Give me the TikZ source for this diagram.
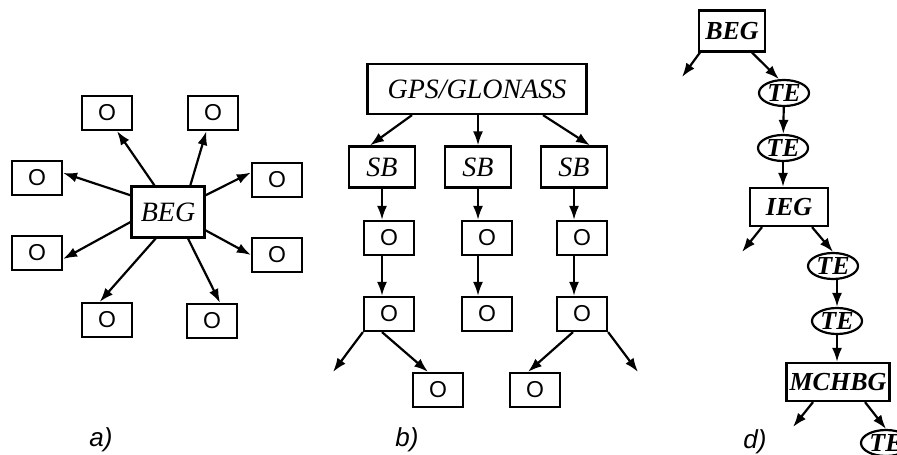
\documentclass[tikz,border=0pt]{standalone}
\usepackage{fontspec}
\setmainfont{Liberation Serif}
\setsansfont{Liberation Sans}
\usetikzlibrary{shapes.geometric,arrows.meta}

\tikzset{obox/.style={draw, minimum width=25pt, minimum height=17pt, inner sep=0pt, font=\fontsize{11.5}{12}\selectfont\sffamily}}

\begin{document}
\begin{tikzpicture}[x=0.5pt,y=-0.5pt,line width=1.1pt,>={Latex[length=7pt,width=5pt]},
		box/.style={draw, inner sep=1pt, font=\fontsize{14}{15}\selectfont\itshape},
		dbox/.style={box, font=\fontsize{13}{14}\selectfont\bfseries\itshape},
		te/.style={draw, ellipse, minimum width=25pt, minimum height=13pt, inner sep=0pt, font=\fontsize{13}{13}\selectfont\bfseries\itshape},
		lbl/.style={font=\fontsize{13}{14}\selectfont\sffamily\itshape}]
		\useasboundingbox (0,0) rectangle (897,454);
		
		\node[box, minimum width=36.5pt, minimum height=25.5pt] (beg) at (168,212) {BEG};
		\node[obox] (o1) at (107,113) {O};
		\node[obox] (o2) at (213,113) {O};
		\node[obox] (o3) at (37,178) {O};
		\node[obox] (o4) at (277,180) {O};
		\node[obox] (o5) at (37,253) {O};
		\node[obox] (o6) at (277,255) {O};
		\node[obox] (o7) at (107,320) {O};
		\node[obox] (o8) at (212,321) {O};
		\draw[->] (beg.117) -- (o1.299);
		\draw[->] (beg.50) -- (o2.250);
		\draw[->] (beg.156) -- (o3.11);
		\draw[->] (beg.24) -- (o4.164);
		\draw[->] (beg.195) -- (o5.347);
		\draw[->] (beg.334) -- (o6.180);
		\draw[->] (beg.245) -- (o7.112);
		\draw[->] (beg.307) -- (o8.66);
		\node[lbl] (la) at (101,440) {a)};
		
		\node[box, minimum width=109.5pt, minimum height=25pt] (gps) at (477,89) {GPS/GLONASS};
		\node[box, minimum width=33pt, minimum height=20.5pt] (sb1) at (382,167) {SB};
		\node[box, minimum width=33pt, minimum height=20.5pt] (sb2) at (478,167) {SB};
		\node[box, minimum width=33pt, minimum height=20.5pt] (sb3) at (574,167) {SB};
		\node[obox] (b11) at (389,238) {O};
		\node[obox] (b12) at (487,238) {O};
		\node[obox] (b13) at (582,238) {O};
		\node[obox] (b21) at (389,314) {O};
		\node[obox] (b22) at (487,314) {O};
		\node[obox] (b23) at (582,314) {O};
		\node[obox] (b31) at (438,390) {O};
		\node[obox] (b32) at (535,390) {O};
		\coordinate (e1) at (333,372);
		\coordinate (e2) at (638,372);
		\draw[->] ([xshift=-32.5pt]gps.south) -- ([xshift=-6pt]sb1.north);
		\draw[->] (gps.south -| sb2) -- (sb2.north);
		\draw[->] ([xshift=33pt]gps.south) -- ([xshift=8pt]sb3.north);
		\draw[->] (sb1.south) -- (sb1.south |- b11.north);
		\draw[->] (sb2.south) -- (sb2.south |- b12.north);
		\draw[->] (sb3.south) -- (sb3.south |- b13.north);
		\draw[->] (b11.south -| sb1) -- (sb1 |- b21.north);
		\draw[->] (b12.south -| sb2) -- (sb2 |- b22.north);
		\draw[->] (b13.south -| sb3) -- (sb3 |- b23.north);
		\draw[->] (b21.south west) -- (e1);
		\draw[->] ([xshift=-3.5pt]b21.south) -- ([xshift=-5pt]b31.north);
		\draw[->] ([xshift=-4.5pt]b23.south) -- ([xshift=-3.5pt]b32.north);
		\draw[->] (b23.south east) -- (e2);
		\node[lbl] (lb) at (407,440) {b)};
		
		\node[dbox, minimum width=33pt, minimum height=20.5pt] (dbeg) at (732,31) {BEG};
		\node[te] (te1) at (784,93) {TE};
		\node[te] (te2) at (783,148) {TE};
		\node[dbox, minimum width=39pt, minimum height=19pt] (ieg) at (789,207) {IEG};
		\node[te] (te3) at (833,266) {TE};
		\node[te] (te4) at (837,321) {TE};
		\node[dbox, minimum width=51.5pt, minimum height=19pt] (mch) at (838,382) {MCHBG};
		\node[te] (te5) at (886,443) {TE};
		\coordinate (f1) at (682,77);
		\coordinate (f2) at (742,252);
		\coordinate (f3) at (793,427);
		\draw[->] ([xshift=1pt]dbeg.south west) -- (f1);
		\draw[->] ([xshift=10pt]dbeg.south) -- (te1.110);
		\draw[->] (te1) -- (te2);
		\draw[->] (te2.south) -- (te2.south |- ieg.north);
		\draw[->] ([xshift=-13.5pt]ieg.south) -- (f2);
		\draw[->] ([xshift=11.5pt]ieg.south) -- (te3.north);
		\draw[->] (te3.south -| te4) -- (te4.north);
		\draw[->] (te4.south) -- (te4.south |- mch.north);
		\draw[->] ([xshift=-12.5pt]mch.south) -- (f3);
		\draw[->] ([xshift=13.5pt]mch.south) -- (te5.north);
		\node[lbl] (ld) at (755,442) {d)};
	\end{tikzpicture}
\end{document}
